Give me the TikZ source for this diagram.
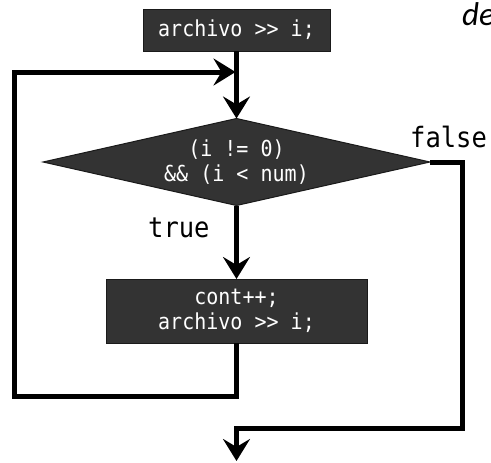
\documentclass[tikz,border=0pt]{standalone}
\usepackage{fontspec}
\newfontfamily\codefont[FakeStretch=0.91]{DejaVu Sans Mono}
\newfontfamily\notefont{Carlito}
\usetikzlibrary{shapes.geometric,arrows.meta}
\definecolor{boxfill}{HTML}{333333}
\definecolor{boxedge}{HTML}{1A1A1A}
\begin{document}
\begin{tikzpicture}[x=1pt,y=-1pt,
  procbox/.style={draw=boxedge,line width=1pt,fill=boxfill,text=white,font=\fontsize{22}{25}\selectfont\codefont,align=center,inner sep=0pt,outer sep=0pt},
  decbox/.style={diamond,draw=boxedge,line width=1pt,fill=boxfill,text=white,font=\fontsize{22}{25}\selectfont\codefont,align=center,inner sep=0pt,outer sep=0pt,aspect=4.45,minimum width=387pt,minimum height=87pt},
  flow/.style={line width=5pt,line join=miter,-{Stealth[length=22pt,width=27pt,inset=8pt]}},
  lbl/.style={font=\fontsize{28}{30}\selectfont\codefont,inner sep=0pt}
]
\clip (0,0) rectangle (491,463);
\useasboundingbox (0,0) rectangle (491,463);
\node[procbox,minimum width=187pt,minimum height=42pt] (top) at (236.5,30) {archivo >> i;};
\node[decbox] (dia) at (236.5,162) {(i != 0)\\\&\& (i < num)};
\node[procbox,minimum width=261pt,minimum height=64pt] (body) at (236.5,311) {cont++;\\archivo >> i;};
\node[lbl,anchor=base west] (tl) at (148,237) {true};
\node[lbl,anchor=base west] (fl) at (410,147) {false};
\node[font=\fontsize{33}{36}\selectfont\notefont\itshape,inner sep=0pt,anchor=base west] (de) at (462,25) {de};
\coordinate (join) at (236.5,72);
\coordinate (loopR) at (236.5,396);
\coordinate (loopL) at (14,396);
\coordinate (fR) at (462,162);
\coordinate (fB) at (462,428);
\coordinate (exitT) at (236.5,428);
\coordinate (exitE) at (236.5,461);
\draw[flow] (top.south) -- (dia.north);
\draw[flow] (dia.south) -- (body.north);
\draw[flow] (body.south) -- (loopR) -- (loopL) |- ([xshift=-1pt]join);
\draw[flow] (dia.east) -- (fR) -- (fB) -- (exitT) -- (exitE);
\end{tikzpicture}
\end{document}
